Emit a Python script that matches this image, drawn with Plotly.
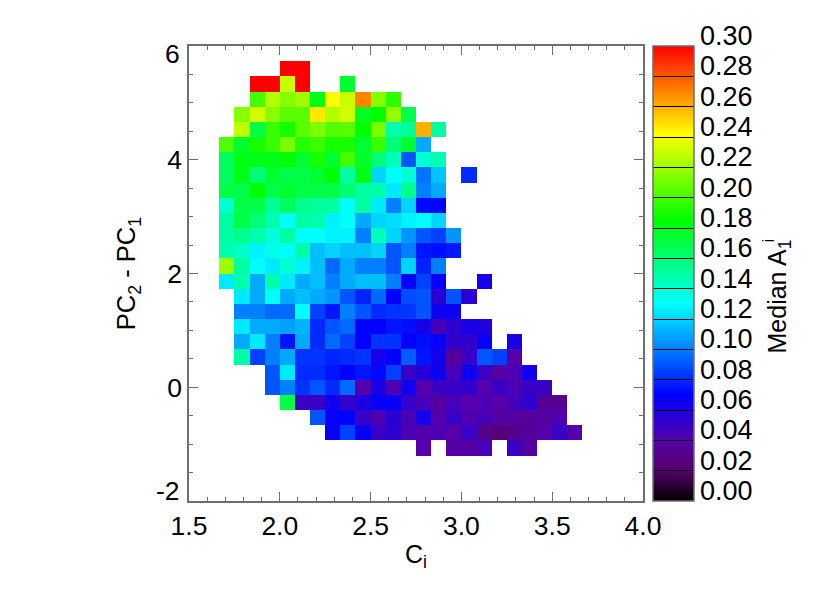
import plotly.graph_objects as go

X_RANGE = [1.5, 4.0]
Y_RANGE = [-2.0, 6.0]
N_BINS = 30
_ = None

# Median A_1^i per cell; rows listed from the top of the chart, columns from the left
rows_top_down = [
    [],
    [_,_,_,_,_,_,.30,.30],
    [_,_,_,_,.30,.30,.23,.30,_,_,.175],
    [_,_,_,_,.20,.225,.215,.22,.18,.242,.23,.27,.215,.195],
    [_,_,_,.215,.232,.215,.205,.205,.247,.225,.232,.178,.185,.218,.168],
    [_,_,_,.228,.17,.198,.19,.205,.213,.203,.205,.185,.212,.148,.152,.26,.15],
    [_,_,.203,.175,.19,.197,.212,.193,.198,.19,.19,.175,.198,.16,.175,.11],
    [_,_,.165,.18,.18,.18,.186,.175,.19,.175,.2,.176,.16,.145,.09,.14,.147],
    [_,_,.165,.18,.16,.175,.17,.17,.175,.185,.15,.18,.12,.13,.14,.097,.116,_,.08],
    [_,_,.17,.17,.185,.17,.175,.17,.17,.17,.16,.15,.148,.125,.155,.10,.11],
    [_,_,.14,.17,.17,.152,.165,.155,.152,.15,.13,.15,.125,.10,.12,.072,.07],
    [_,_,.15,.17,.16,.148,.13,.15,.148,.127,.13,.11,.12,.122,.127,.13,.12],
    [_,_,.15,.155,.148,.138,.15,.13,.13,.127,.127,.10,.145,.12,.105,.09,.085,.105],
    [_,_,.148,.142,.127,.135,.13,.15,.115,.12,.115,.115,.12,.09,.10,.075,.073,.076],
    [_,_,.22,.15,.13,.125,.14,.127,.115,.095,.11,.10,.10,.09,.12,.078,.10],
    [_,_,.125,.148,.11,.148,.125,.11,.115,.10,.11,.115,.115,.10,.07,.085,.068,_,_,.063],
    [_,_,_,.125,.11,.13,.11,.115,.11,.105,.09,.078,.095,.07,.088,.09,.055,.09,.055],
    [_,_,_,.10,.10,.095,.095,.13,.085,.075,.10,.09,.08,.082,.083,.09,.065,.065],
    [_,_,_,.125,.11,.11,.108,.112,.08,.09,.095,.07,.07,.075,.073,.062,.045,.053,.062,.058],
    [_,_,_,.11,.125,.10,.075,.11,.08,.095,.085,.07,.082,.082,.07,.073,.068,.053,.053,.068,_,.062],
    [_,_,_,.15,.085,.10,.11,.082,.082,.078,.08,.082,.062,.07,.092,.075,.063,.035,.05,.09,.085,.04],
    [_,_,_,_,_,.09,.125,.08,.08,.075,.07,.075,.072,.085,.05,.057,.065,.045,.065,.05,.038,.043,.065],
    [_,_,_,_,_,.09,.10,.082,.09,.08,.095,.04,.062,.042,.065,.04,.05,.05,.053,.04,.05,.043,.05,.05],
    [_,_,_,_,_,_,.17,.05,.05,.065,.052,.06,.068,.068,.052,.045,.035,.045,.04,.043,.04,.046,.053,.033,.033],
    [_,_,_,_,_,_,_,_,.09,.068,.07,.05,.043,.056,.044,.062,.04,.05,.042,.045,.038,.038,.035,.038,.042],
    [_,_,_,_,_,_,_,_,_,.068,.085,.068,.05,.053,.044,.041,.042,.04,.05,.03,.025,.03,.035,.04,.05,.04],
    [_,_,_,_,_,_,_,_,_,_,_,_,_,_,_,.04,_,.038,.038,.045,_,.05,.038],
    [], [], [],
]

colorbar_ticks = [i * 0.02 for i in range(16)]
colorbar_labels = ["%.2f" % t for t in colorbar_ticks]
y_inner_ticks = [0, 2, 4]
y_inner_labels = ["0", "2", "4"]
y_end_ticks = [-2, 6]
y_end_labels = ["-2", "6"]
Z_MAX = 0.30

color_stops = [
    [0.0, "rgb(0,0,0)"],
    [0.02 / Z_MAX, "rgb(85,0,105)"],
    [0.04 / Z_MAX, "rgb(85,0,170)"],
    [0.07 / Z_MAX, "rgb(0,0,255)"],
    [0.13 / Z_MAX, "rgb(0,255,255)"],
    [0.185 / Z_MAX, "rgb(0,255,0)"],
    [0.242 / Z_MAX, "rgb(255,255,0)"],
    [1.0, "rgb(255,0,0)"],
]

dx = (X_RANGE[1] - X_RANGE[0]) / N_BINS
dy = (Y_RANGE[1] - Y_RANGE[0]) / N_BINS
z = [r + [None] * (N_BINS - len(r)) for r in reversed(rows_top_down)]

FONT = "Liberation Sans, Arial, sans-serif"
AXIS = "#6e6e6e"
PAGE_OFFSET = 8  # the page body adds this margin around the figure
LEFT, RIGHT, TOP, BOTTOM = 188.5 - PAGE_OFFSET, 643.5 - PAGE_OFFSET, 45.7 - PAGE_OFFSET, 500.7 - PAGE_OFFSET
PW, PH = RIGHT - LEFT, BOTTOM - TOP

fig = go.Figure(go.Heatmap(
    z=z, x0=X_RANGE[0] + dx / 2, dx=dx, y0=Y_RANGE[0] + dy / 2, dy=dy,
    zmin=0, zmax=Z_MAX, colorscale=color_stops, hoverongaps=False,
    colorbar=dict(
        x=(654 - 188.5) / PW, xanchor="left", xpad=0, y=0, yanchor="bottom", ypad=0,
        len=1, lenmode="fraction", thickness=41, thicknessmode="pixels",
        outlinecolor=AXIS, outlinewidth=1.5,
        tickmode="array", tickvals=colorbar_ticks, showticklabels=False,
        ticks="inside", ticklen=41, tickcolor="black", tickwidth=1,
    ),
))

axis_common = dict(
    showline=True, linecolor=AXIS, linewidth=1.5, mirror="allticks", showgrid=False, zeroline=False,
    ticks="inside", tickcolor=AXIS, tickwidth=1, ticklen=9,
    tickfont=dict(family=FONT, size=26.5, color="black"),
    automargin=False,
)
fig.update_xaxes(
    range=X_RANGE, dtick=0.5, tick0=1.5, tickformat=".1f",
    minor=dict(dtick=0.1, ticks="inside", ticklen=4.5, tickcolor=AXIS, tickwidth=1, showgrid=False),
    title=dict(text="C<sub>i</sub>", font=dict(family=FONT, size=25, color="black"), standoff=6),
    **axis_common,
)
fig.update_yaxes(
    range=Y_RANGE, tickmode="array", tickvals=y_inner_ticks, ticktext=y_inner_labels,
    minor=dict(dtick=0.5, tick0=0, ticks="inside", ticklen=4.5, tickcolor=AXIS, tickwidth=1, showgrid=False),
    title=dict(text="PC<sub>2</sub> - PC<sub>1</sub>", font=dict(family=FONT, size=25.5, color="black"), standoff=24),
    **axis_common,
)

# end labels of the y axis sit inside the axis span in the reference
for tick, label, shift in zip(y_end_ticks, y_end_labels, [10.5, -7.5]):
    fig.add_annotation(
        text=label, xref="paper", yref="y", x=(181 - 188.5) / PW, y=tick, yshift=shift,
        xanchor="right", yanchor="middle", showarrow=False, xshift=0,
        font=dict(family=FONT, size=26.5, color="black"),
    )

for tick, label in zip(colorbar_ticks, colorbar_labels):
    fig.add_annotation(
        text=label, xref="paper", yref="paper", x=(700 - 188.5) / PW, y=tick / Z_MAX, yshift=10,
        xanchor="left", yanchor="middle", showarrow=False, xshift=-1,
        font=dict(family=FONT, size=27, color="black"),
    )

fig.add_annotation(
    text="Median A<sub>1</sub>", textangle=-90, xref="paper", yref="paper",
    x=(780 - 188.5) / PW, y=(500.7 - 296) / PH, xanchor="center", yanchor="middle", showarrow=False,
    font=dict(family=FONT, size=25, color="black"),
)
fig.add_annotation(
    text="i", textangle=-90, xref="paper", yref="paper",
    x=(769 - 188.5) / PW, y=(500.7 - 240) / PH, xanchor="center", yanchor="middle", showarrow=False,
    font=dict(family=FONT, size=17, color="black"),
)

fig.update_layout(
    width=830, height=593, paper_bgcolor="white", plot_bgcolor="white",
    margin=dict(l=LEFT, r=830 - RIGHT, t=TOP, b=593 - BOTTOM, pad=0, autoexpand=False),
)
fig.write_html("out.html")
